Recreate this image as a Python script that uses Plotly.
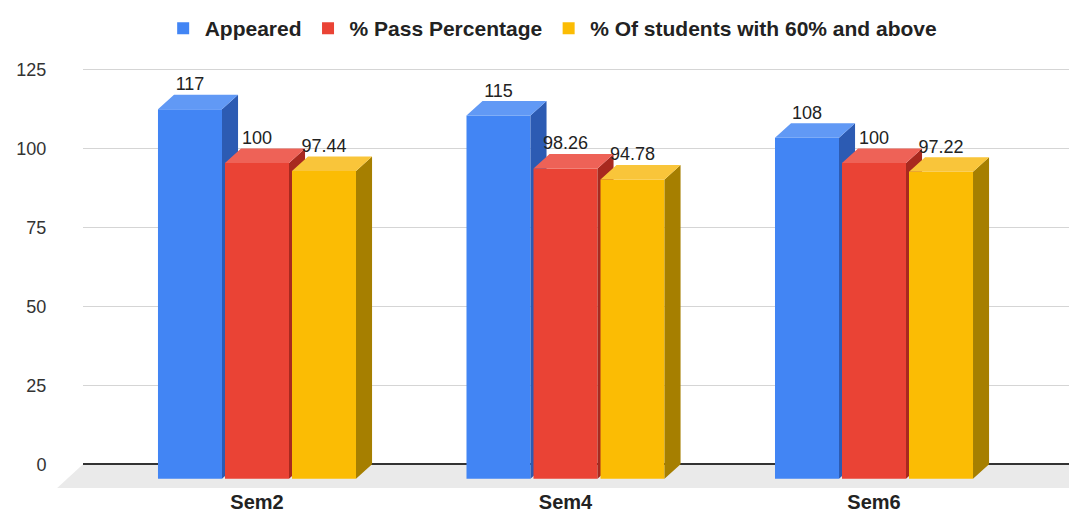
import plotly.graph_objects as go

categories = ["Sem2", "Sem4", "Sem6"]
series_names = ["Appeared", "% Pass Percentage", "% Of students with 60% and above"]
appeared = [117, 115, 108]
pass_pct = [100, 98.26, 100]
above60 = [97.44, 94.78, 97.22]
value_labels = [["117", "115", "108"], ["100", "98.26", "100"], ["97.44", "94.78", "97.22"]]
y_ticks = [0, 25, 50, 75, 100, 125]

series_values = [appeared, pass_pct, above60]
front_colors = ["#4285F4", "#EA4335", "#FBBC04"]
top_colors = ["#6199F5", "#EE6257", "#F9C53A"]
side_colors = ["#2C5BB3", "#A8291F", "#A67F00"]

W = 0.2075      # bar width (x units)
OFF = 0.2172    # offset between bars in a group
DX = 0.052      # 3D depth in x units
DY = 4.59       # 3D depth in y units
YR = [-7.5, 128]
FONT = "Arial, Liberation Sans, sans-serif"

fig = go.Figure()
xs = list(range(len(categories)))
yaxes = ["y", "y2", "y3"]

for k, (name, vals) in enumerate(zip(series_names, series_values)):
    ya = yaxes[k]
    xc = [x + (k - 1) * OFF for x in xs]
    fig.add_trace(go.Bar(
        x=xc, y=vals, base=-DY, width=W, name=name, yaxis=ya,
        marker=dict(color=front_colors[k], line=dict(width=0)),
        hoverinfo="name+y",
    ))
    sx, sy, tx, ty = [], [], [], []
    for c, v in zip(xc, vals):
        xl, xr = c - W / 2, c + W / 2
        sx += [xr, xr + DX, xr + DX, xr, xr, None]
        sy += [-DY, 0, v, v - DY, -DY, None]
        tx += [xl, xr, xr + DX, xl + DX, xl, None]
        ty += [v - DY, v - DY, v, v, v - DY, None]
    fig.add_trace(go.Scatter(x=sx, y=sy, fill="toself", mode="lines", line=dict(width=0),
                             fillcolor=side_colors[k], showlegend=False, hoverinfo="skip", yaxis=ya))
    fig.add_trace(go.Scatter(x=tx, y=ty, fill="toself", mode="lines", line=dict(width=0),
                             fillcolor=top_colors[k], showlegend=False, hoverinfo="skip", yaxis=ya))

for k, vals in enumerate(series_values):
    xc = [x + (k - 1) * OFF for x in xs]
    fig.add_trace(go.Scatter(
        x=xc, y=vals, mode="text", text=value_labels[k], textposition="top center",
        textfont=dict(family=FONT, size=18, color="#222222"),
        showlegend=False, hoverinfo="skip", yaxis="y3", cliponaxis=False,
    ))

# floor of the 3D plot (decoration, paper coords)
fig.add_shape(type="path", xref="paper", yref="paper", layer="below",
              path="M 0,0.0554 L 1.03,0.0554 L 1.005,0 L -0.026,0 Z",
              fillcolor="#EAEAEA", line=dict(width=0))

# the page body has an 8px margin, so the figure is sized/offset to compensate
fig.update_layout(
    width=1069, height=505,
    margin=dict(l=75, r=0, t=51.5, b=25.3, autoexpand=False),
    paper_bgcolor="white", plot_bgcolor="white",
    barmode="overlay",
    font=dict(family=FONT, color="#444444"),
    legend=dict(orientation="h", x=0.472, xanchor="center", y=1.0735, yanchor="middle",
                font=dict(size=21, color="#222222", family=FONT, weight="bold"),
                itemsizing="constant", itemwidth=33, tracegroupgap=0),
    xaxis=dict(range=[-0.564, 2.658], tickvals=xs, ticktext=categories,
               showgrid=False, zeroline=False, showline=False, automargin=False,
               ticks="", tickfont=dict(size=20, color="#222222", weight="bold")),
    yaxis=dict(range=YR, tickvals=y_ticks, showgrid=True, gridcolor="#D5D5D5", gridwidth=1,
               zeroline=True, zerolinecolor="#333333", zerolinewidth=1.5, automargin=False,
               showline=False, ticks="outside", ticklen=32, tickcolor="rgba(0,0,0,0)",
               tickfont=dict(size=18, color="#333333")),
    yaxis2=dict(range=YR, overlaying="y", visible=False, showgrid=False, zeroline=False),
    yaxis3=dict(range=YR, overlaying="y", visible=False, showgrid=False, zeroline=False),
)

fig.write_html("out.html")
